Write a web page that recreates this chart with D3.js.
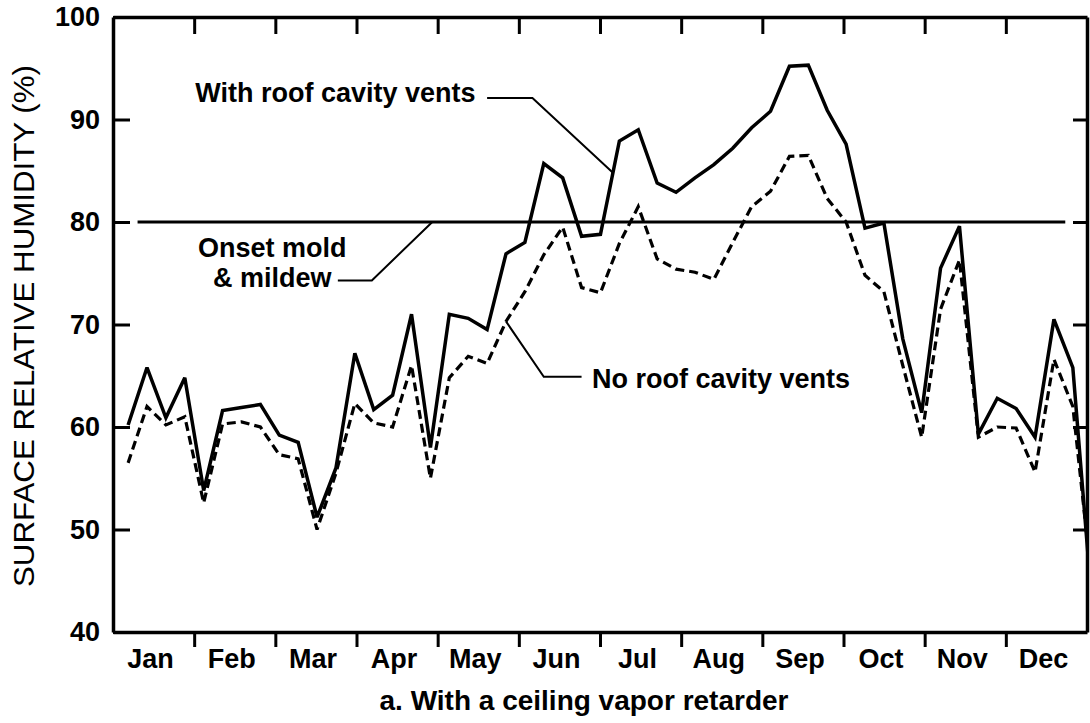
<!DOCTYPE html>
<html>
<head>
<meta charset="utf-8">
<script src="https://cdn.jsdelivr.net/npm/d3@7"></script>
<style>
  body { margin: 0; background: #fff; }
  svg { display: block; font-family: "Liberation Sans", Arial, Helvetica, sans-serif; }
</style>
</head>
<body>
<div id="chart"></div>
<script>
{
  const { d3 } = window;

  // --- data (weekly samples) ---
  const months = ['Jan', 'Feb', 'Mar', 'Apr', 'May', 'Jun', 'Jul', 'Aug', 'Sep', 'Oct', 'Nov', 'Dec'];
  const weeks = d3.range(1, 53);
  const withVents = [
    60.2, 65.8, 60.9, 64.8, 53.8, 61.6, 61.9, 62.2, 59.2, 58.5,
    51.2, 56.0, 67.2, 61.7, 63.1, 71.0, 58.0, 71.0, 70.6, 69.5,
    76.9, 78.0, 85.7, 84.3, 78.6, 78.8, 87.9, 89.0, 83.8, 82.9,
    84.3, 85.6, 87.2, 89.2, 90.8, 95.2, 95.3, 90.9, 87.6, 79.4,
    79.9, 68.6, 61.4, 75.5, 79.6, 59.3, 62.8, 61.8, 59.0, 70.5,
    65.8, 43.0,
  ];
  const noVents = [
    56.5, 62.0, 60.2, 61.0, 52.6, 60.3, 60.5, 60.0, 57.3, 56.9,
    50.0, 55.5, 62.3, 60.4, 60.0, 66.0, 55.0, 64.8, 66.9, 66.2,
    70.3, 73.2, 76.8, 79.5, 73.6, 73.1, 77.9, 81.5, 76.4, 75.4,
    75.1, 74.4, 78.0, 81.5, 83.0, 86.4, 86.5, 82.3, 80.0, 74.8,
    73.2, 66.0, 59.0, 71.5, 76.3, 59.0, 60.0, 59.9, 55.6, 66.6,
    62.0, 45.0,
  ];
  const yTicks = [40, 50, 60, 70, 80, 90, 100];
  const moldOnset = 80;

  const width = 1090;
  const height = 723;
  const margin = { top: 17, right: 3, bottom: 91, left: 113 };
  const innerW = width - margin.left - margin.right;
  const innerH = height - margin.top - margin.bottom;

  // the year spans about 51.5 weekly steps on the axis
  const x = d3.scaleLinear().domain([0.2, 51.75]).range([0, innerW]);
  const y = d3.scaleLinear().domain([40, 100]).range([innerH, 0]);

  const span = x.domain()[1] - x.domain()[0];
  const monthBounds = d3.range(13).map((k) => x.domain()[0] + k * span / 12);

  const svg = d3.select('#chart').append('svg')
    .attr('width', width)
    .attr('height', height);

  svg.append('rect').attr('width', width).attr('height', height).attr('fill', '#fff');

  svg.append('defs').append('clipPath').attr('id', 'plot-clip')
    .append('rect').attr('width', innerW).attr('height', innerH);

  const g = svg.append('g').attr('transform', `translate(${margin.left},${margin.top})`);

  // onset of mold line
  g.append('line')
    .attr('x1', x(1.5)).attr('x2', x(50.6))
    .attr('y1', y(moldOnset)).attr('y2', y(moldOnset))
    .attr('stroke', '#000').attr('stroke-width', 3);

  const line = d3.line()
    .x((d, i) => x(weeks[i]))
    .y((d) => y(d));

  const plot = g.append('g').attr('clip-path', 'url(#plot-clip)');

  plot.append('path')
    .datum(noVents)
    .attr('fill', 'none')
    .attr('stroke', '#000')
    .attr('stroke-width', 3.2)
    .attr('stroke-dasharray', '9,5')
    .attr('stroke-miterlimit', 3)
    .attr('d', line);

  plot.append('path')
    .datum(withVents)
    .attr('fill', 'none')
    .attr('stroke', '#000')
    .attr('stroke-width', 3.5)
    .attr('stroke-miterlimit', 3)
    .attr('d', line);

  // axes
  const styleAxis = (sel) => {
    sel.select('.domain').attr('stroke', '#000').attr('stroke-width', 3.5);
    sel.selectAll('.tick line').attr('stroke', '#000').attr('stroke-width', 3);
    sel.selectAll('.tick text')
      .attr('fill', '#000')
      .style('font-size', '27px')
      .style('font-weight', 'bold');
  };

  g.append('g')
    .call(d3.axisLeft(y).tickValues(yTicks).tickSizeInner(-17).tickSizeOuter(0).tickPadding(13))
    .call(styleAxis);

  g.append('g')
    .attr('transform', `translate(${innerW},0)`)
    .call(d3.axisRight(y).tickValues(yTicks.slice(1, -1)).tickSizeInner(-14).tickSizeOuter(0).tickFormat(''))
    .call(styleAxis);

  g.append('g')
    .call(d3.axisTop(x).tickValues(monthBounds.slice(1, -1)).tickSizeInner(-17).tickSizeOuter(0).tickFormat(''))
    .call(styleAxis);

  g.append('g')
    .attr('transform', `translate(0,${innerH})`)
    .call(d3.axisBottom(x).tickValues(monthBounds.slice(1, -1)).tickSizeInner(15).tickSizeOuter(0).tickFormat(''))
    .call(styleAxis);

  // month names sit between the ticks
  g.append('g').selectAll('text')
    .data(months)
    .join('text')
    .attr('x', (d, i) => (x(monthBounds[i]) + x(monthBounds[i + 1])) / 2 - 3)
    .attr('y', innerH + 36)
    .attr('text-anchor', 'middle')
    .style('font-size', '27px')
    .style('font-weight', 'bold')
    .text((d) => d);

  // caption
  svg.append('text')
    .attr('x', 584)
    .attr('y', 710)
    .attr('text-anchor', 'middle')
    .style('font-size', '28px')
    .style('font-weight', 'bold')
    .text('a. With a ceiling vapor retarder');

  // y title
  svg.append('text')
    .attr('transform', 'translate(34,326) rotate(-90)')
    .attr('text-anchor', 'middle')
    .attr('textLength', 522)
    .attr('lengthAdjust', 'spacingAndGlyphs')
    .style('font-size', '29px')
    .text('SURFACE  RELATIVE  HUMIDITY (%)');

  // annotations
  const label = (txt, wx, vy, anchor) => g.append('text')
    .attr('x', x(wx))
    .attr('y', y(vy))
    .attr('text-anchor', anchor)
    .style('font-size', '27px')
    .style('font-weight', 'bold')
    .text(txt);

  const leader = (pts) => g.append('path')
    .attr('d', d3.line().x((p) => x(p[0])).y((p) => y(p[1]))(pts))
    .attr('fill', 'none')
    .attr('stroke', '#000')
    .attr('stroke-width', 2);

  label('With roof cavity vents', 4.55, 91.7, 'start');
  leader([[20.0, 92.1], [22.4, 92.1], [26.66, 84.8]]);

  label('Onset mold', 8.63, 76.6, 'middle');
  label('& mildew', 8.63, 73.7, 'middle');
  leader([[12.1, 74.3], [13.9, 74.3], [17.1, moldOnset]]);

  label('No roof cavity vents', 25.55, 63.8, 'start');
  leader([[25.0, 64.9], [23.0, 64.9], [21.0, noVents[20]]]);
}
</script>
</body>
</html>
